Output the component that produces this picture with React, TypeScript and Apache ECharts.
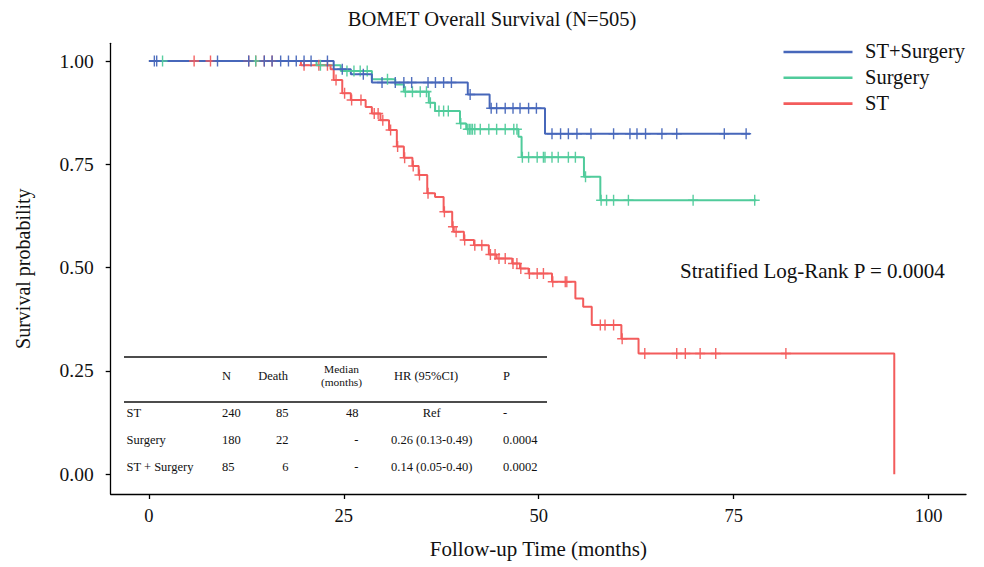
import React, { useEffect, useRef } from 'react';
import * as echarts from 'echarts';

// ---------- data ----------
const xTicks = [0, 25, 50, 75, 100];
const yTicks = [0, 0.25, 0.5, 0.75, 1];

const groupNames = ['ST+Surgery', 'Surgery', 'ST'];

// ST (red) Kaplan-Meier steps
const stTime = [0, 19.5, 23.3, 23.7, 24.8, 25.9, 27.8, 28.6, 29.7, 30.8, 31.8, 32.7, 33.8, 34.6, 35.7, 36.7, 37.8, 38.9, 39.1, 40.4, 41.7, 43.6, 44.6, 46.6, 47.6, 48.7, 51.7, 54.7, 55.7, 56.8, 60.6, 62.8, 95.6];
const stSurv = [1, 0.99, 0.98, 0.954, 0.922, 0.906, 0.889, 0.873, 0.857, 0.833, 0.793, 0.766, 0.746, 0.724, 0.68, 0.671, 0.635, 0.599, 0.587, 0.567, 0.554, 0.532, 0.522, 0.51, 0.498, 0.486, 0.466, 0.425, 0.405, 0.361, 0.328, 0.292, 0];
const stCensor = [5.8, 7.9, 12.8, 13.7, 14.8, 15.8, 19.9, 21.8, 22.9, 24.0, 25.1, 26.0, 27.2, 28.9, 29.4, 30.0, 31.0, 31.9, 32.8, 33.9, 34.7, 35.8, 37.9, 39.0, 39.4, 40.5, 41.8, 42.7, 43.8, 44.4, 44.9, 45.7, 46.7, 47.2, 47.7, 48.8, 49.8, 50.6, 51.8, 53.4, 53.6, 57.9, 58.5, 59.6, 60.7, 63.6, 67.7, 68.8, 70.7, 72.7, 81.7];

// Surgery (green)
const sgTime = [0, 21.5, 24.6, 28.6, 31.6, 32.7, 35.9, 36.7, 39.9, 40.7, 47.4, 47.8, 55.8, 57.9, 77.9];
const sgSurv = [1, 0.99, 0.976, 0.956, 0.943, 0.926, 0.899, 0.879, 0.849, 0.835, 0.817, 0.767, 0.72, 0.663, 0.663];
const sgCensor = [1.75, 13.7, 22.0, 25.4, 26.3, 27.1, 28.0, 30.6, 32.9, 33.8, 34.8, 35.6, 36.1, 37.2, 37.8, 38.4, 40.0, 40.9, 41.1, 41.3, 41.5, 41.8, 42.5, 43.6, 44.6, 45.7, 46.8, 47.2, 47.9, 48.7, 49.8, 50.6, 50.8, 51.7, 52.5, 53.8, 54.7, 56.0, 58.0, 58.7, 59.6, 61.5, 69.8, 77.7];

// ST+Surgery (blue)
const bsTime = [0, 23.7, 25.9, 28.6, 40.9, 43.7, 50.8, 77.1];
const bsSurv = [1, 0.98, 0.968, 0.948, 0.919, 0.886, 0.824, 0.824];
const bsCensor = [0.7, 1.0, 8.8, 12.8, 14.8, 15.8, 16.9, 17.9, 18.9, 19.9, 20.8, 22.9, 24.8, 27.5, 29.9, 31.6, 32.7, 33.7, 35.8, 36.75, 37.8, 38.8, 41.2, 43.9, 44.6, 45.7, 46.7, 47.6, 48.7, 49.7, 51.7, 52.8, 53.8, 54.9, 56.7, 59.6, 61.7, 62.6, 63.7, 65.8, 67.7, 73.8, 76.6];

// inset table
const tableHeader = ['N', 'Death', 'Median', '(months)', 'HR (95%CI)', 'P'];
const tableRows = [
  ['ST', '240', '85', '48', 'Ref', '-'],
  ['Surgery', '180', '22', '-', '0.26 (0.13-0.49)', '0.0004'],
  ['ST + Surgery', '85', '6', '-', '0.14 (0.05-0.40)', '0.0002'],
];

const pText = 'Stratified Log-Rank P = 0.0004';
const titleText = 'BOMET Overall Survival (N=505)';
const xTitle = 'Follow-up Time (months)';
const yTitle = 'Survival probability';

// ---------- helpers ----------
const FONT = 'Liberation Serif';
const COLORS: Record<string, string> = { 'ST+Surgery': '#4767BA', Surgery: '#50CB9B', ST: '#F35C5C' };
const PLUS = 'path://M43,0 H57 V43 H100 V57 H57 V100 H43 V57 H0 V43 H43 Z';

function stepAt(times: number[], surv: number[], t: number) {
  let v = surv[0];
  for (let i = 0; i < times.length; i++) if (times[i] <= t) v = surv[i];
  return v;
}
const pairs = (t: number[], s: number[]) => t.map((v, i) => [v, s[i]]);
const censorPts = (c: number[], t: number[], s: number[]) => c.map((v) => [v, stepAt(t, s, v)]);

function lineSeries(name: string, t: number[], s: number[], z: number) {
  const color = COLORS[name];
  return {
    name,
    type: 'line',
    step: 'end',
    data: pairs(t, s),
    showSymbol: false,
    symbol: 'none',
    lineStyle: { color, width: 2 },
    itemStyle: { color },
    z,
    silent: true,
  };
}
function censorSeries(name: string, c: number[], t: number[], s: number[], z: number) {
  return {
    name: name + ' censored',
    type: 'scatter',
    data: censorPts(c, t, s),
    symbol: PLUS,
    symbolSize: [10, 11],
    itemStyle: { color: COLORS[name], opacity: 0.95 },
    z,
    silent: true,
  };
}

function txt(x: number, y: number, text: string, align: string, size: number) {
  return {
    type: 'text',
    x,
    y,
    style: {
      text,
      fontFamily: FONT,
      fontSize: size,
      fill: '#111',
      align,
      textAlign: align,
      verticalAlign: 'middle',
      textVerticalAlign: 'middle',
    },
  };
}

function legendGraphics() {
  const els: any[] = [];
  groupNames.forEach((n, i) => {
    const y = 52 + i * 25.8;
    els.push({
      type: 'line',
      shape: { x1: 783.5, y1: y, x2: 852.5, y2: y },
      style: { stroke: COLORS[n], lineWidth: 2.6 },
    });
    els.push(txt(865, y - 1, n, 'left', 20.5));
  });
  return els;
}

function tableGraphics() {
  const els: any[] = [];
  els.push({ type: 'line', shape: { x1: 124, y1: 357, x2: 547, y2: 357 }, style: { stroke: '#111', lineWidth: 1.4 } });
  els.push({ type: 'line', shape: { x1: 124, y1: 402, x2: 547, y2: 402 }, style: { stroke: '#111', lineWidth: 1.4 } });
  const hPos = [
    { x: 222, y: 375.5, a: 'left' },
    { x: 288, y: 375.5, a: 'right' },
    { x: 341.5, y: 368.8, a: 'center' },
    { x: 341.5, y: 382.2, a: 'center' },
    { x: 426, y: 375.5, a: 'center' },
    { x: 503, y: 375.5, a: 'left' },
  ];
  tableHeader.forEach((h, i) => {
    els.push(txt(hPos[i].x, hPos[i].y, h, hPos[i].a, i === 2 || i === 3 ? 11.4 : 12.5));
  });
  const cols = [
    { x: 126.5, a: 'left' },
    { x: 222, a: 'left' },
    { x: 288.5, a: 'right' },
    { x: 358.5, a: 'right' },
    { x: 431.7, a: 'center' },
    { x: 503, a: 'left' },
  ];
  const rowY = [413.3, 440, 466.7];
  tableRows.forEach((r, ri) => {
    r.forEach((c, ci) => {
      els.push(txt(cols[ci].x, rowY[ri], c, cols[ci].a, 12.5));
    });
  });
  return els;
}

export default function App() {
  const ref = useRef<HTMLDivElement>(null);
  useEffect(() => {
    if (!ref.current) return;
    const chart = echarts.init(ref.current, null, { renderer: 'svg' });
    const axisLine = { show: true, onZero: false, lineStyle: { color: '#000', width: 1.3 } };
    const option: any = {
      animation: false,
      backgroundColor: '#fff',
      textStyle: { fontFamily: FONT, color: '#111' },
      title: {
        text: titleText,
        left: 'center',
        top: 3,
        textStyle: { fontFamily: FONT, fontSize: 20.5, fontWeight: 'normal', color: '#111' },
      },
      grid: { left: 110.7, top: 43.3, width: 855.3, height: 450.7, containLabel: false },
      xAxis: {
        type: 'value',
        min: -4.9,
        max: 104.8,
        axisLine,
        axisTick: { show: true, inside: false, length: 5, lineStyle: { color: '#000', width: 1.3 }, customValues: xTicks },
        axisLabel: { customValues: xTicks, fontFamily: FONT, fontSize: 18.5, color: '#111', margin: 12 },
        splitLine: { show: false },
        name: xTitle,
        nameLocation: 'middle',
        nameGap: 44,
        nameTextStyle: { fontFamily: FONT, fontSize: 21, color: '#111' },
      },
      yAxis: {
        type: 'value',
        min: -0.048,
        max: 1.043,
        axisLine,
        axisTick: { show: true, inside: false, length: 5, lineStyle: { color: '#000', width: 1.3 }, customValues: yTicks },
        axisLabel: {
          customValues: yTicks,
          fontFamily: FONT,
          fontSize: 19.5,
          color: '#111',
          margin: 17,
          formatter: (v: number) => v.toFixed(2),
        },
        splitLine: { show: false },
        name: yTitle,
        nameLocation: 'middle',
        nameRotate: 90,
        nameGap: 78,
        nameTextStyle: { fontFamily: FONT, fontSize: 20, color: '#111' },
      },
      graphic: [...tableGraphics(), ...legendGraphics(), txt(680, 271, pText, 'left', 21)],
      series: [
        lineSeries('ST', stTime, stSurv, 2),
        lineSeries('Surgery', sgTime, sgSurv, 3),
        lineSeries('ST+Surgery', bsTime, bsSurv, 4),
        censorSeries('ST', stCensor, stTime, stSurv, 5),
        censorSeries('Surgery', sgCensor, sgTime, sgSurv, 6),
        censorSeries('ST+Surgery', bsCensor, bsTime, bsSurv, 7),
      ],
    };
    chart.setOption(option);
    return () => chart.dispose();
  }, []);
  return (
    <div
      ref={ref}
      style={{ position: 'fixed', left: 0, top: 0, width: 984, height: 567, background: '#fff' }}
    />
  );
}
